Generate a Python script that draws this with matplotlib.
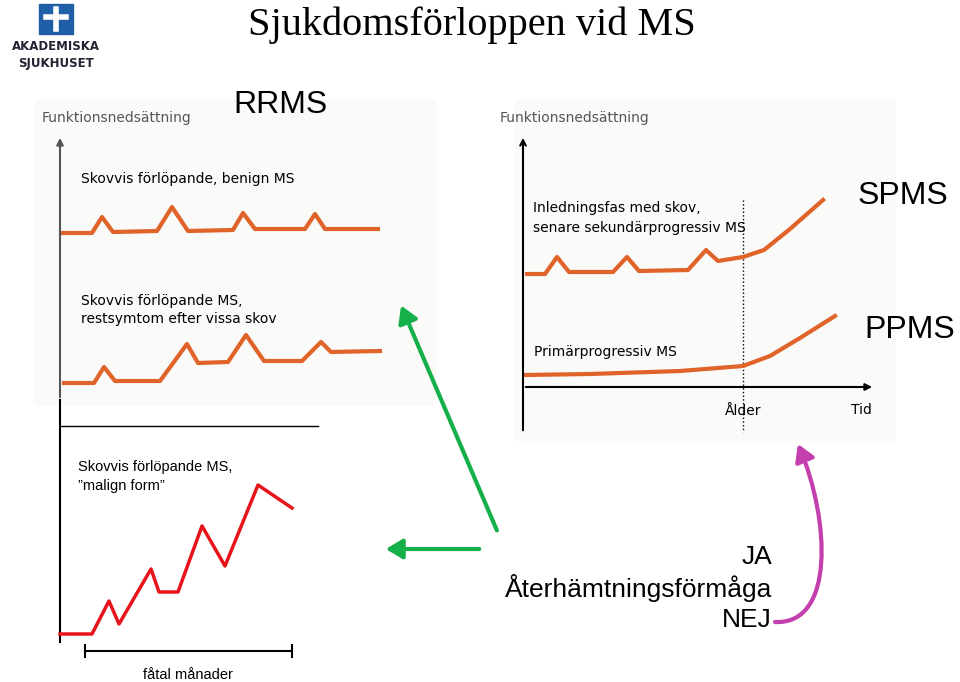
import matplotlib.pyplot as plt
from matplotlib.patches import FancyArrowPatch, Rectangle
from matplotlib.path import Path

ORANGE = "#e0632a"

# curves in slide pixel coordinates (x, y-down)
benign_x = [62, 92, 102, 113, 157, 172, 188, 233, 243, 255, 305, 315, 325, 378]
benign_y = [233, 233, 217, 232, 231, 207, 231, 230, 213, 229, 229, 214, 229, 229]
rest_x = [64, 94, 104, 115, 160, 187, 198, 228, 246, 264, 302, 321, 331, 380]
rest_y = [383, 383, 367, 381, 381, 344, 363, 362, 335, 361, 361, 342, 352, 351]
spms_x = [527, 545, 557, 569, 613, 627, 639, 688, 706, 718, 743, 764, 790, 823]
spms_y = [274, 274, 257, 272, 272, 257, 271, 270, 250, 261, 257, 250, 229, 200]
ppms_x = [525, 590, 680, 743, 770, 800, 835]
ppms_y = [375, 374, 371, 366, 356, 338, 316]
malign_x = [60, 92, 109, 119, 151, 159, 178, 202, 225, 258, 292]
malign_y = [634, 634, 601, 624, 569, 592, 592, 526, 566, 485, 508]

fig = plt.figure(figsize=(9.6, 6.82), dpi=100)
ax = fig.add_axes([0, 0, 1, 1])
ax.set_xlim(0, 960)
ax.set_ylim(682, 0)
ax.axis("off")

# left RRMS panel
ax.add_patch(Rectangle((35, 100), 400, 305, color="#fafaf8", zorder=0))
ax.annotate("", xy=(60, 135), xytext=(60, 400),
            arrowprops=dict(arrowstyle="-|>", color="#555", lw=1.5))
ax.text(42, 122, "Funktionsnedsättning", fontsize=10, color="#555")
ax.text(81, 183, "Skovvis förlöpande, benign MS", fontsize=10)
ax.text(81, 305, "Skovvis förlöpande MS,", fontsize=10)
ax.text(81, 323, "restsymtom efter vissa skov", fontsize=10)
ax.plot(benign_x, benign_y, color=ORANGE, lw=3)
ax.plot(rest_x, rest_y, color=ORANGE, lw=3)
ax.text(280, 105, "RRMS", fontsize=23, ha="center", va="center", family="Liberation Sans")

# right SPMS/PPMS panel
ax.add_patch(Rectangle((515, 100), 380, 340, color="#fafaf8", zorder=0))
ax.annotate("", xy=(523, 135), xytext=(523, 433),
            arrowprops=dict(arrowstyle="->", color="black", lw=1.5))
ax.annotate("", xy=(875, 387), xytext=(523, 387),
            arrowprops=dict(arrowstyle="-|>", color="black", lw=1.5))
ax.plot([743, 743], [200, 432], color="black", lw=1, ls=":")
ax.text(500, 122, "Funktionsnedsättning", fontsize=10, color="#555")
ax.text(533, 212, "Inledningsfas med skov,", fontsize=10)
ax.text(533, 232, "senare sekundärprogressiv MS", fontsize=10)
ax.text(534, 356, "Primärprogressiv MS", fontsize=10)
ax.text(743, 411, "Ålder", fontsize=10, ha="center", va="center")
ax.text(861, 410, "Tid", fontsize=10, ha="center", va="center")
ax.plot(spms_x, spms_y, color=ORANGE, lw=3)
ax.plot(ppms_x, ppms_y, color=ORANGE, lw=3)
ax.text(903, 196, "SPMS", fontsize=23, ha="center", va="center", family="Liberation Sans")
ax.text(910, 330, "PPMS", fontsize=23, ha="center", va="center", family="Liberation Sans")

# malign panel
ax.plot([60, 60], [400, 642], color="black", lw=1.5)
ax.plot([60, 318], [426, 426], color="black", lw=1)
ax.text(78, 467, "Skovvis förlöpande MS,", fontsize=10.5, va="center", family="Liberation Sans")
ax.text(78, 486, "\u201dmalign form\u201d", fontsize=10.5, va="center", family="Liberation Sans")
ax.plot(malign_x, malign_y, color="#e8141c", lw=2.5)
ax.plot([85, 292], [651, 651], color="black", lw=1.5)
ax.plot([85, 85], [645, 657], color="black", lw=1.5)
ax.plot([292, 292], [645, 657], color="black", lw=1.5)
ax.text(188, 675, "fåtal månader", fontsize=10.5, ha="center", va="center", family="Liberation Sans")

# title and logo
ax.text(472, 25, "Sjukdomsförloppen vid MS", fontsize=29, ha="center", va="center",
        family="Liberation Serif")
ax.add_patch(Rectangle((39, 4), 34, 30, color="#1f5fa8"))
ax.plot([56, 56], [9, 29], color="white", lw=4)
ax.plot([46, 66], [17, 17], color="white", lw=4)
ax.text(56, 46, "AKADEMISKA", fontsize=8.5, weight="bold", ha="center", va="center", color="#223")
ax.text(56, 64, "SJUKHUSET", fontsize=8.5, weight="bold", ha="center", va="center", color="#223")

# bottom text and arrows
ax.text(772, 557, "JA", fontsize=19, ha="right", va="center", family="Liberation Sans")
ax.text(772, 588, "Återhämtningsförmåga", fontsize=19, ha="right", va="center", family="Liberation Sans")
ax.text(772, 620, "NEJ", fontsize=19, ha="right", va="center", family="Liberation Sans")
GREEN = "#16b04a"
ax.add_patch(FancyArrowPatch((498, 533), (400, 303), arrowstyle="-|>,head_length=10,head_width=6",
                             color=GREEN, lw=3))
ax.add_patch(FancyArrowPatch((482, 549), (383, 549), arrowstyle="-|>,head_length=10,head_width=6",
                             color=GREEN, lw=3))
curve = Path([(775, 622), (835, 625), (830, 520), (798, 444)],
             [Path.MOVETO, Path.CURVE4, Path.CURVE4, Path.CURVE4])
ax.add_patch(FancyArrowPatch(path=curve, arrowstyle="-|>,head_length=10,head_width=6",
                             color="#c43fae", lw=3))

fig.savefig("out.png", dpi=100)
